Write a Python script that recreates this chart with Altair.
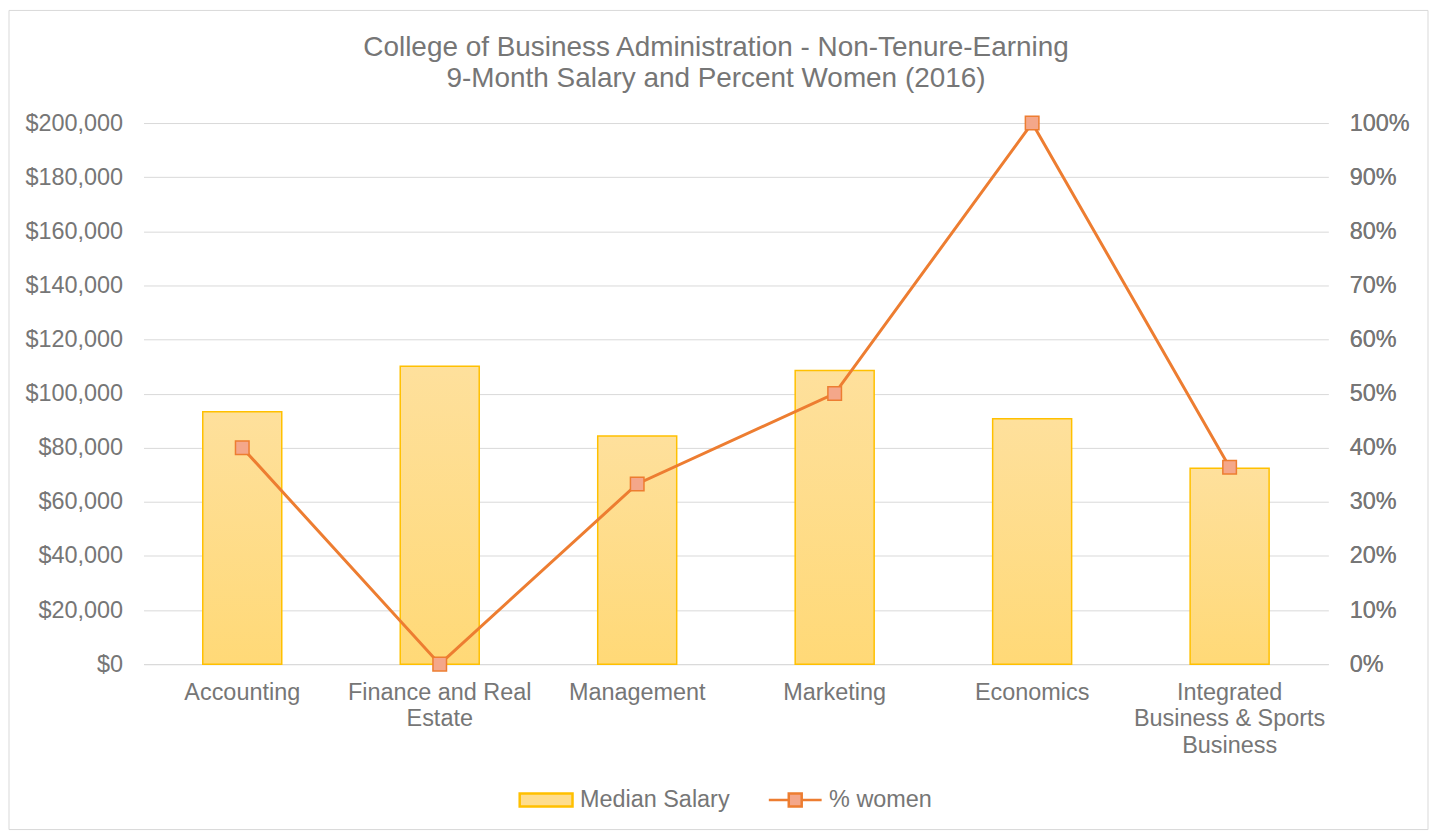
import json
import altair as alt
import pandas as pd

# ---- data ----
categories = ["Accounting", "Finance and Real Estate", "Management", "Marketing",
              "Economics", "Integrated Business & Sports Business"]
label_lines = [["Accounting"], ["Finance and Real", "Estate"], ["Management"], ["Marketing"],
               ["Economics"], ["Integrated", "Business & Sports", "Business"]]
median_salary = [93300, 110100, 84300, 108500, 90700, 72400]
pct_women = [0.40, 0.0, 0.333, 0.50, 1.0, 0.364]
legend_names = ["Median Salary", "% women"]
title_lines = ["College of Business Administration - Non-Tenure-Earning",
               "9-Month Salary and Percent Women (2016)"]

df = pd.DataFrame({"category": categories, "salary": median_salary, "pct": pct_women})
legend_df = pd.DataFrame({"series": legend_names})
frame_df = pd.DataFrame({"k": [0]})

TXT = "#767676"
GRID = "#D9D9D9"
FONT = "Liberation Sans"
W, H = 1189, 543

label_map = json.dumps(dict(zip(categories, label_lines)))

x_enc = alt.X("category:N", sort=categories, title=None,
              scale=alt.Scale(paddingInner=0.6, paddingOuter=0.3),
              axis=alt.Axis(labelExpr=f"{label_map}[datum.value]", labelAngle=0,
                            labelFontSize=23.5, labelColor=TXT, labelLineHeight=27,
                            labelPadding=16, labelLimit=400, ticks=False,
                            domain=True, domainColor=GRID, domainWidth=1, grid=False))

bars = alt.Chart(df).mark_bar(
    fill=alt.Gradient(gradient="linear",
                      stops=[alt.GradientStop(color="#FEE09C", offset=0),
                             alt.GradientStop(color="#FFD977", offset=1)],
                      x1=0, x2=0, y1=0, y2=1),
    stroke="#FFC000", strokeWidth=1.5
).encode(
    x=x_enc,
    y=alt.Y("salary:Q", title=None,
            scale=alt.Scale(domain=[0, 200000], nice=False),
            axis=alt.Axis(values=list(range(0, 200001, 20000)), format="$,.0f",
                          labelFontSize=23.5, labelColor=TXT, labelPadding=21,
                          ticks=False, domain=False, grid=True,
                          gridColor=GRID, gridWidth=1))
)

y_right = alt.Y("pct:Q", title=None,
                scale=alt.Scale(domain=[0, 1], nice=False),
                axis=alt.Axis(orient="right", values=[i / 10 for i in range(11)], format=".0%",
                              labelFontSize=23.5, labelColor=TXT, labelPadding=21,
                              ticks=False, domain=False, grid=False))

line = alt.Chart(df).mark_line(color="#ED7D31", strokeWidth=3).encode(x=x_enc, y=y_right)
pts = alt.Chart(df).mark_point(shape="square", size=185, filled=True, fill="#F4A78A",
                               stroke="#ED7D31", strokeWidth=1.5, opacity=1).encode(x=x_enc, y=y_right)

rect_path = "M-1,-0.245H1V0.245H-1Z"
line_path = "M-1,0H-0.245M0.245,0H1M-0.245,-0.245H0.245V0.245H-0.245Z"

def leg():
    return alt.Legend(title=None, orient="none", direction="horizontal",
                      legendX=376, legendY=651, symbolOpacity=1)

legend_layer = alt.Chart(legend_df).mark_point(filled=True, opacity=0).encode(
    shape=alt.Shape("series:N", scale=alt.Scale(domain=legend_names, range=[rect_path, line_path]),
                    legend=leg()),
    color=alt.Color("series:N", scale=alt.Scale(domain=legend_names, range=["#FEDD8E", "#F4A78A"]),
                    legend=leg()),
    stroke=alt.Stroke("series:N", scale=alt.Scale(domain=legend_names, range=["#FFC000", "#ED7D31"]),
                      legend=leg()),
)

frame = alt.Chart(frame_df).mark_rect(fillOpacity=0, stroke=GRID, strokeWidth=1).encode(
    x=alt.value(-135), x2=alt.value(1289), y=alt.value(-113), y2=alt.value(709))

chart = alt.layer(bars, line, pts, legend_layer, frame).resolve_scale(
    y="independent"
).properties(
    width=W, height=H, padding=0,
    title=alt.TitleParams(text=title_lines, fontSize=28, color=TXT, font=FONT,
                          fontWeight="normal", lineHeight=31, anchor="middle",
                          dx=-20, offset=-83)
).configure(font=FONT).configure_view(stroke=None).configure_legend(
    labelFontSize=23.5, labelColor=TXT, labelFont=FONT, symbolSize=2809,
    symbolStrokeWidth=2.5, labelOffset=6, columnPadding=33, padding=0,
)

chart.save("out.html", embed_options={"renderer": "svg", "actions": False})
